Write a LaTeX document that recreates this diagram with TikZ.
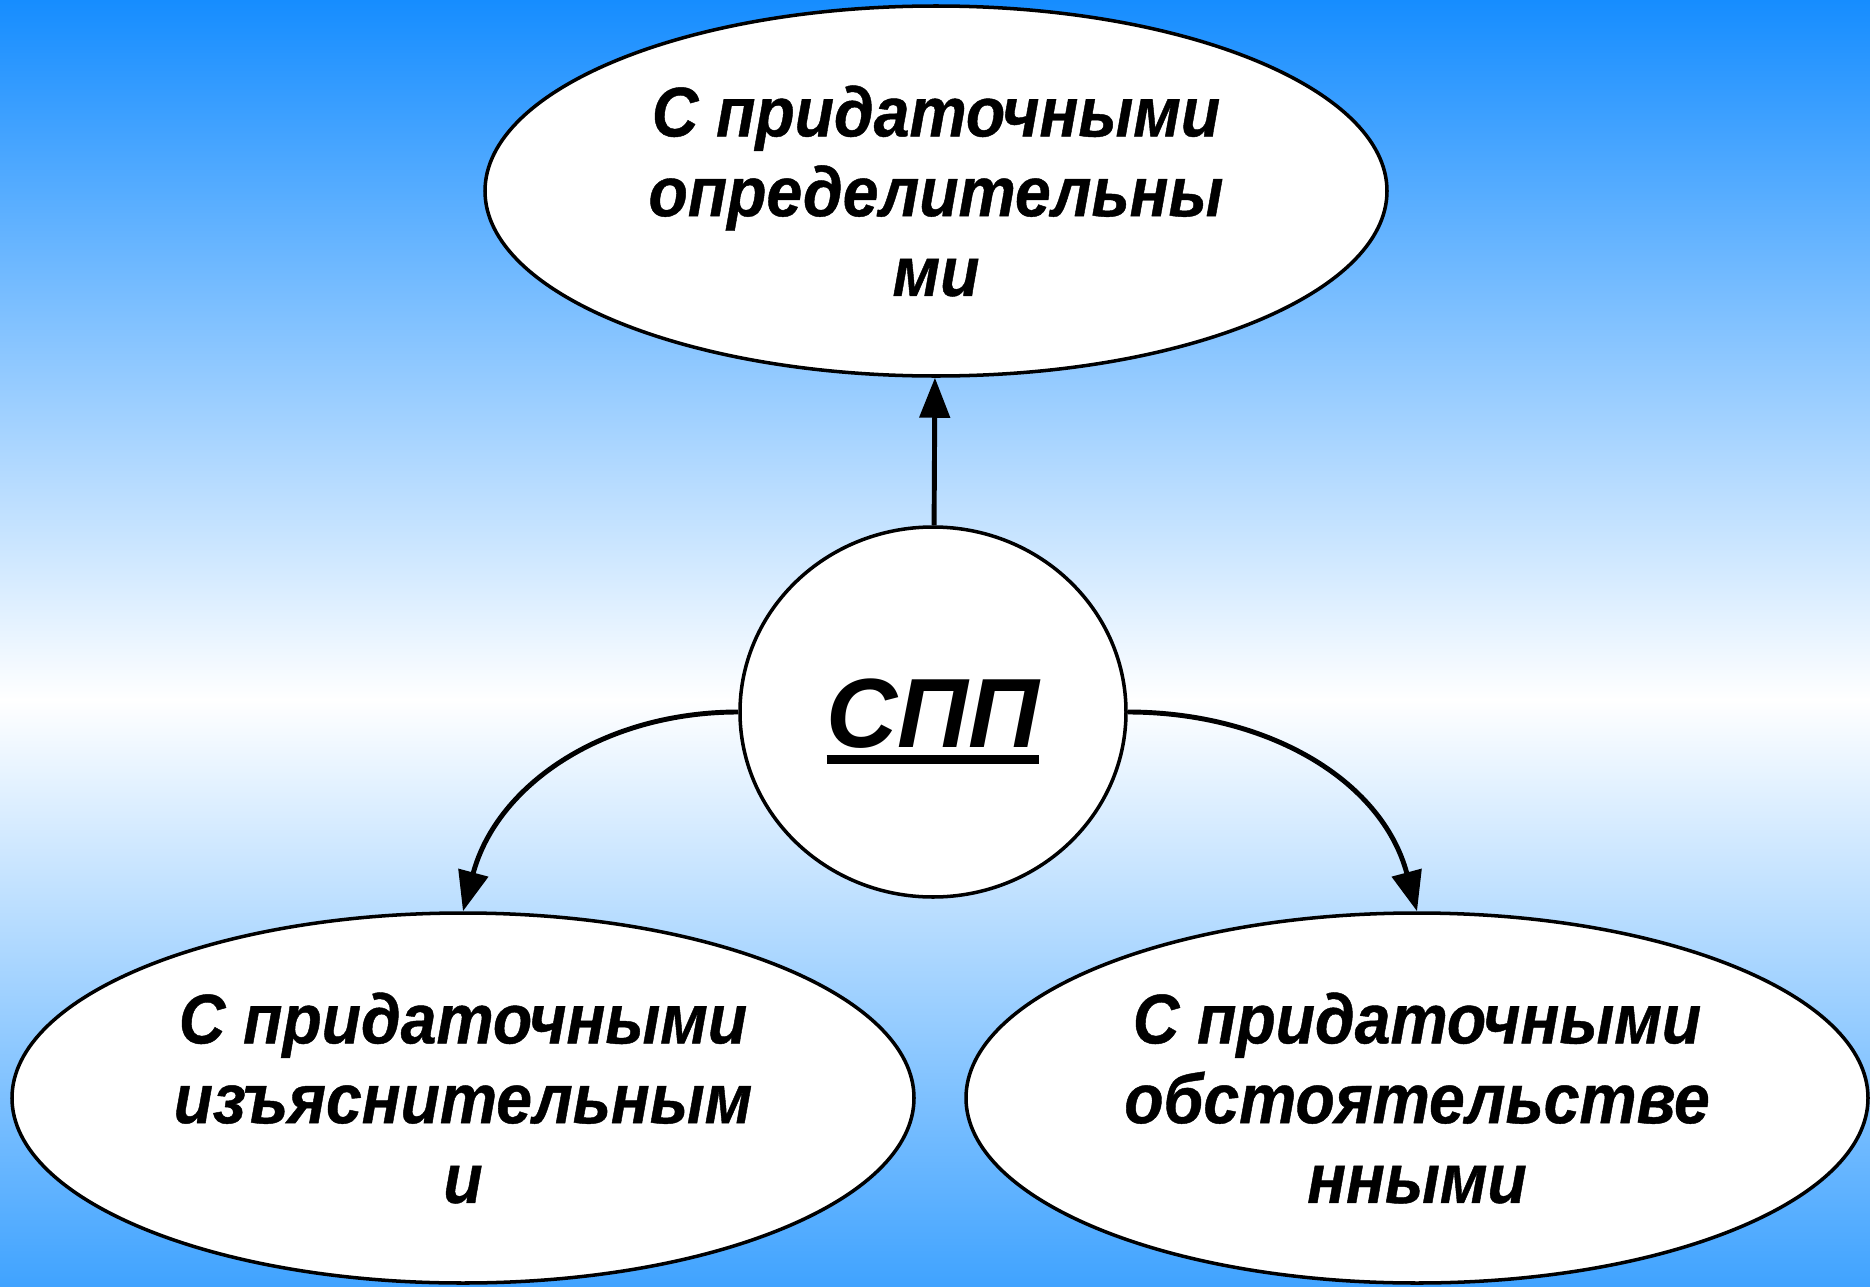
\documentclass[tikz,border=0pt]{standalone}
\usepackage{fontspec}
\setmainfont{Liberation Sans}
\newfontfamily\ovalfont[FakeStretch=0.915,FakeBold=0.6]{Liberation Sans}
\usetikzlibrary{shapes.geometric,arrows.meta}
\definecolor{skytop}{RGB}{22,141,255}
\definecolor{skybottom}{RGB}{64,163,255}
\begin{document}
\begin{tikzpicture}[
    oval/.style={ellipse, draw, line width=1pt, fill=white, inner sep=0pt,
      minimum width=9.02cm, minimum height=3.7cm, align=center,
      font=\ovalfont\fontsize{20}{22.7}\selectfont\bfseries\itshape},
    link/.style={line width=1.4pt, -{Triangle[length=0.4cm,width=0.3cm]}}
  ]
    \useasboundingbox (0,0) rectangle (18.7,12.86);
    \shade [top color=skytop, bottom color=white] (0,5.85) rectangle (18.7,12.86);
    \shade [top color=white, bottom color=skybottom] (0,0) rectangle (18.7,5.87);
    \node [oval] at (9.36,10.95) (T) {С придаточными\\определительны\\ми};
    \node [oval, minimum width=3.86cm, font=\fontsize{28}{30}\selectfont\bfseries\itshape]
      at (9.33,5.74) (C) {\vtop{\hbox{\vrule width 0pt height 25pt СПП}\kern1.8pt\hrule height 2.6pt}};
    \node [oval] at (4.63,1.88) (L) {С придаточными\\изъяснительным\\и};
    \node [oval] at (14.17,1.88) (R) {С придаточными\\обстоятельстве\\нными};
    \draw [link] (C) -- (T) ;
    \draw [link] (C.west) to [out=180, in=75] (L.north) ;
    \draw [link] (C.east) to [out=0, in=105] (R.north) ;
  \end{tikzpicture}
\end{document}
